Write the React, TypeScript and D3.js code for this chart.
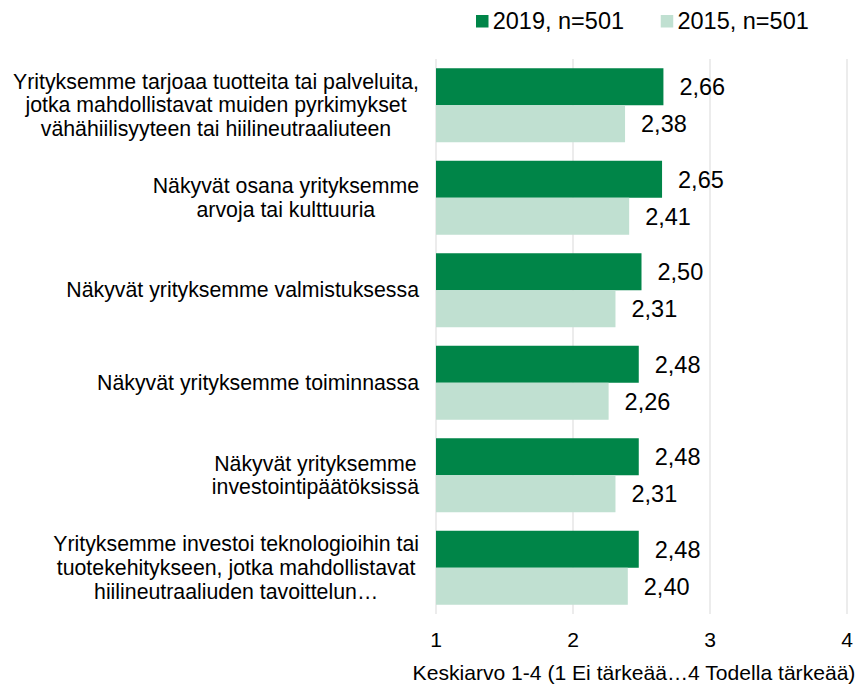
import React from "react";
import * as d3 from "d3";

const categories: string[][] = [
  ["Yrityksemme tarjoaa tuotteita tai palveluita,", "jotka mahdollistavat muiden pyrkimykset", "vähähiilisyyteen tai hiilineutraaliuteen"],
  ["Näkyvät osana yrityksemme", "arvoja tai kulttuuria"],
  ["Näkyvät yrityksemme valmistuksessa"],
  ["Näkyvät yrityksemme toiminnassa"],
  ["Näkyvät yrityksemme", "investointipäätöksissä"],
  ["Yrityksemme investoi teknologioihin tai", "tuotekehitykseen, jotka mahdollistavat", "hiilineutraaliuden tavoittelun…"],
];
const values2019: number[] = [2.66, 2.65, 2.5, 2.48, 2.48, 2.48];
const values2015: number[] = [2.38, 2.41, 2.31, 2.26, 2.31, 2.4];
const seriesNames: string[] = ["2019, n=501", "2015, n=501"];
const xTicks: number[] = [1, 2, 3, 4];
const xTitle = "Keskiarvo 1-4 (1 Ei tärkeää…4 Todella tärkeää)";

const W = 864;
const H = 684;
const FONT = "'Liberation Sans', Arial, sans-serif";
const C_DARK = "#008548";
const C_LIGHT = "#C0E0D1";
const C_GRID = "#D9D9D9";

const catFs = 21.3;
const valFs = 23.5;
const axFs = 21.1;

let ctx: CanvasRenderingContext2D | null = null;
function measure(text: string, fs: number): number {
  if (!ctx) {
    const c = document.createElement("canvas");
    ctx = c.getContext("2d");
  }
  if (!ctx) return text.length * fs * 0.5;
  ctx.font = `${fs}px 'Liberation Sans', Arial, sans-serif`;
  return ctx.measureText(text).width;
}

export default function App() {
  const x = d3.scaleLinear().domain([1, 4]).range([436, 847]);
  const y = d3
    .scaleBand<number>()
    .domain(d3.range(categories.length))
    .range([59, 614])
    .paddingInner(0.2)
    .paddingOuter(0.1);
  const inner = d3.scaleBand<number>().domain([0, 1]).range([0, y.bandwidth()]);
  const series = [values2019, values2015];
  const colors = [C_DARK, C_LIGHT];

  const labelRight = 419;
  const lineH = 23.6;

  // legend
  const legX0 = 476;
  const sq = 12.5;
  const legItems: { x: number; name: string; color: string }[] = [];
  let lx = legX0;
  seriesNames.forEach((n, i) => {
    legItems.push({ x: lx, name: n, color: colors[i] });
    lx += sq + 4.2 + measure(n, valFs) + 36.7;
  });

  return (
    <svg
      width={W}
      height={H}
      style={{ position: "absolute", left: 0, top: 0, background: "#fff" }}
      fontFamily={FONT}
    >
      {/* gridlines */}
      {xTicks.map((t) => (
        <line key={t} x1={x(t)} x2={x(t)} y1={59} y2={614} stroke={C_GRID} strokeWidth={1} />
      ))}
      {/* bars */}
      {categories.map((_, ci) =>
        series.map((vals, si) => (
          <rect
            key={`${ci}-${si}`}
            x={x(1)}
            y={(y(ci) as number) + (inner(si) as number)}
            width={x(vals[ci]) - x(1)}
            height={inner.bandwidth()}
            fill={colors[si]}
          />
        ))
      )}
      {/* value labels */}
      {categories.map((_, ci) =>
        series.map((vals, si) => (
          <text
            key={`v${ci}-${si}`}
            x={x(vals[ci]) + 16}
            y={(y(ci) as number) + (inner(si) as number) + inner.bandwidth() / 2 + valFs * 0.36}
            fontSize={valFs}
            fill="#000"
          >
            {d3.format(".2f")(vals[ci]).replace(".", ",")}
          </text>
        ))
      )}
      {/* category labels */}
      {categories.map((lines, ci) => {
        const maxW = d3.max(lines, (l) => measure(l, catFs)) as number;
        const cx = labelRight - maxW / 2;
        const cy = (y(ci) as number) + y.bandwidth() / 2;
        const n = lines.length;
        return (
          <text key={`c${ci}`} fontSize={catFs} textAnchor="middle" fill="#000">
            {lines.map((l, li) => (
              <tspan key={li} x={cx} y={cy + (li - (n - 1) / 2) * lineH + catFs * 0.34}>
                {l}
              </tspan>
            ))}
          </text>
        );
      })}
      {/* x tick labels */}
      {xTicks.map((t) => (
        <text key={`t${t}`} x={x(t)} y={647} fontSize={axFs} textAnchor="middle" fill="#000">
          {t}
        </text>
      ))}
      <text x={634} y={680} fontSize={axFs} textAnchor="middle" fill="#000">
        {xTitle}
      </text>
      {/* legend */}
      {legItems.map((it, i) => (
        <g key={`l${i}`}>
          <rect x={it.x} y={15} width={sq} height={sq} fill={it.color} />
          <text x={it.x + sq + 4.2} y={29.3} fontSize={valFs} fill="#000">
            {it.name}
          </text>
        </g>
      ))}
    </svg>
  );
}
